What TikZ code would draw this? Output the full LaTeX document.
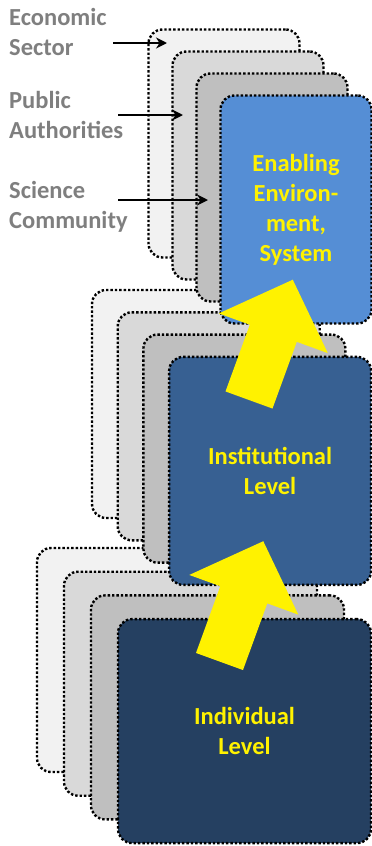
\documentclass[tikz,border=0pt]{standalone}
\usepackage{fontspec}
\setmainfont{Carlito}
\usetikzlibrary{arrows.meta,positioning}
\definecolor{shade1}{HTML}{F2F2F2}
\definecolor{shade2}{HTML}{D9D9D9}
\definecolor{shade3}{HTML}{BFBFBF}
\definecolor{envblue}{HTML}{558ED5}
\definecolor{instblue}{HTML}{376092}
\definecolor{indvblue}{HTML}{254061}
\definecolor{sidegray}{HTML}{7F7F7F}
\tikzstyle{card} = [rectangle, rounded corners=14pt, draw=black, line width=2.4pt, dash pattern=on 2.4pt off 2pt, inner sep=0pt]
\tikzstyle{back1} = [card, fill=shade1]
\tikzstyle{back2} = [card, fill=shade2]
\tikzstyle{back3} = [card, fill=shade3]
\tikzstyle{front} = [card, text=yellow, align=center, font=\bfseries\fontsize{24.5}{30}\selectfont]
\tikzstyle{envsize} = [minimum width=151pt, minimum height=228pt]
\tikzstyle{instsize} = [minimum width=202pt, minimum height=228pt]
\tikzstyle{indvsize} = [minimum width=253pt, minimum height=224pt]
\tikzstyle{sidetext} = [text=sidegray, align=left, anchor=west, inner sep=0pt, font=\bfseries\fontsize{24.5}{30}\selectfont]
\tikzstyle{arrow} = [line width=2.7pt, -{Stealth[length=11pt,width=11pt]}]
\tikzstyle{rise} = [fill=yellow]

\begin{document}
\begin{tikzpicture}[x=1pt, y=1pt]
    \useasboundingbox (0,0) rectangle (372,-846);

    % individual level
    \node (indv1) [back1, indvsize] at (163.5,-660) {};
    \node (indv2) [back2, indvsize, xshift=27pt, yshift=-23.7pt] at (indv1) {};
    \node (indv3) [back3, indvsize, xshift=27pt, yshift=-23.7pt] at (indv2) {};
    \node (indv) [front, indvsize, fill=indvblue, xshift=27pt, yshift=-23.7pt] at (indv3) {Individual\\Level};

    % institutional level
    \node (inst1) [back1, instsize] at (193,-404) {};
    \node (inst2) [back2, instsize, xshift=25.7pt, yshift=-22.3pt] at (inst1) {};
    \node (inst3) [back3, instsize, xshift=25.7pt, yshift=-22.3pt] at (inst2) {};
    \node (inst) [front, instsize, fill=instblue, xshift=25.7pt, yshift=-22.3pt] at (inst3) {Institutional\\Level};

    % enabling environment
    \node (env1) [back1, envsize] at (224,-143.5) {};
    \node (env2) [back2, envsize, xshift=24pt, yshift=-22pt] at (env1) {};
    \node (env3) [back3, envsize, xshift=24pt, yshift=-22pt] at (env2) {};
    \node (env) [front, envsize, fill=envblue, xshift=24pt, yshift=-22pt] at (env3) {Enabling\\Environ-\\ment,\\System};

    % yellow arrows between levels
    \coordinate (indvup) at (219.5,-661.5);
    \coordinate (instup) at (249,-400);
    \fill [rise, shift={(indvup)}, rotate=-20] (-25,0) -- (-25,71) -- (-58,71) -- (0,128) -- (58,71) -- (25,71) -- (25,0) -- cycle;
    \fill [rise, shift={(instup)}, rotate=-20] (-25,0) -- (-25,71) -- (-58,71) -- (0,128) -- (58,71) -- (25,71) -- (25,0) -- cycle;

    % actors
    \node (eco) [sidetext] at (9,-32) {Economic\\Sector};
    \node (pub) [sidetext] at (9,-115) {Public\\Authorities};
    \node (sci) [sidetext] at (9,-207) {Science\\Community};

    \coordinate (ecofrom) at (113,-43);
    \coordinate (ecotip) at (167,-43);
    \coordinate (pubfrom) at (118,-115);
    \coordinate (pubtip) at (183,-115);
    \coordinate (scifrom) at (118,-200);
    \coordinate (scitip) at (208,-200);

    \draw [arrow] (ecofrom) -- (ecotip);
    \draw [arrow] (pubfrom) -- (pubtip);
    \draw [arrow] (scifrom) -- (scitip);
\end{tikzpicture}
\end{document}
